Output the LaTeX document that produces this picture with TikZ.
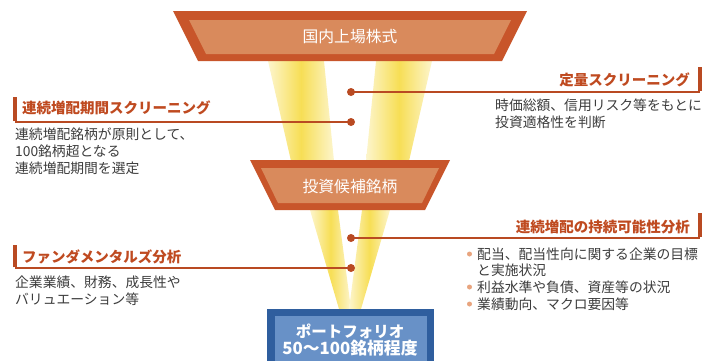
\documentclass[tikz,border=0pt]{standalone}
\usepackage{fontspec}
\setmainfont{Noto Sans CJK JP}
\definecolor{orDark}{HTML}{C8552A}
\definecolor{orLight}{HTML}{D98A5C}
\definecolor{lineRed}{HTML}{B94A22}
\definecolor{titleRed}{HTML}{BF4A20}
\definecolor{bDark}{HTML}{2F5E9E}
\definecolor{bLight}{HTML}{6891C7}
\definecolor{bodyGray}{HTML}{3C3C3C}
\definecolor{beamY}{HTML}{F7DE55}
\definecolor{bulletC}{HTML}{E8A47E}
\tikzset{
  beam/.style={left color=beamY!30, right color=beamY!30, middle color=beamY},
  boxtext/.style={text=white, inner sep=0pt, font=\fontsize{15.8}{18}\selectfont},
  porttext/.style={text=white, inner sep=0pt, align=center, font=\bfseries\fontsize{15.5}{16.5}\selectfont},
  dotnode/.style={circle, fill=lineRed, inner sep=0pt, minimum size=8pt},
  conn/.style={draw=lineRed, line width=1.3pt},
  sidebar/.style={draw=lineRed, line width=3.5pt},
  titletext/.style={text=titleRed, inner sep=0pt, font=\bfseries\fontsize{14.5}{16}\selectfont},
  bodytext/.style={text=bodyGray, inner sep=0pt, align=left, font=\fontsize{13.8}{16.6}\selectfont},
  bullet/.style={circle, fill=bulletC, inner sep=0pt, minimum size=5pt}
}
\begin{document}
\begin{tikzpicture}[x=1pt,y=-1pt]
\useasboundingbox (0,0) rectangle (714,360);
% beams
\shade[beam] (268,61) -- (324,61) -- (334,161) -- (291,161) -- cycle;
\shade[beam] (376,61) -- (432,61) -- (409,161) -- (366,161) -- cycle;
\shade[beam] (310,210) -- (338,210) -- (351,309) -- (339,309) -- cycle;
\shade[beam] (362,210) -- (390,210) -- (361,309) -- (349,309) -- cycle;
% top trapezoid
\fill[orDark] (173,11) -- (527,11) -- (502,61) -- (198,61) -- cycle;
\fill[orLight] (189,20) -- (511,20) -- (494,54) -- (206,54) -- cycle;
\node[boxtext] (market) at (350,37) {国内上場株式};
% middle trapezoid
\fill[orDark] (250,160) -- (450,160) -- (425,210) -- (275,210) -- cycle;
\fill[orLight] (261,168) -- (439,168) -- (422,203) -- (278,203) -- cycle;
\node[boxtext] (cand) at (350,187) {投資候補銘柄};
% portfolio
\fill[bDark] (267,309) rectangle (434,362);
\fill[bLight] (275,316) rectangle (427,362);
\node[porttext] (port) at (350,340) {ポートフォリオ\\{\fontsize{16.8}{16.5}\selectfont 50〜100銘柄程度}};
% connectors
\node[dotnode] (d1) at (351,92) {};
\node[dotnode] (d2) at (351,122) {};
\node[dotnode] (d3) at (351,238) {};
\node[dotnode] (d4) at (351,268) {};
\coordinate (e1) at (700,92);
\coordinate (e2) at (15,122);
\coordinate (e3) at (700,238);
\coordinate (e4) at (15,268);
\draw[conn] (d1.center) -- (e1);
\draw[conn] (d2.center) -- (e2);
\draw[conn] (d3.center) -- (e3);
\draw[conn] (d4.center) -- (e4);
\draw[sidebar] ([yshift=0.6pt]e1) -- ++(0,-24);
\draw[sidebar] ([yshift=0.6pt]e2) -- ++(0,-24);
\draw[sidebar] ([yshift=0.6pt]e3) -- ++(0,-24);
\draw[sidebar] ([yshift=0.6pt]e4) -- ++(0,-22);
% titles
\node[titletext, anchor=east] (t1) at (690,80) {定量スクリーニング};
\node[titletext, anchor=west] (t2) at (22,108) {連続増配期間スクリーニング};
\node[titletext, anchor=east] (t3) at (690,227) {連続増配の持続可能性分析};
\node[titletext, anchor=west] (t4) at (22,257) {ファンダメンタルズ分析};
% bodies
\node[bodytext, anchor=north west] (b1) at (495,99) {時価総額、信用リスク等をもとに\\投資適格性を判断};
\node[bodytext, anchor=north west] (b2) at (15,128) {連続増配銘柄が原則として、\\100銘柄超となる\\連続増配期間を選定};
\node[bodytext, anchor=north west] (b4) at (15,276) {企業業績、財務、成長性や\\バリュエーション等};
\node[bodytext, anchor=west] (b3a) at (477,254) {配当、配当性向に関する企業の目標};
\node[bodytext, anchor=west] (b3b) at (477,270.5) {と実施状況};
\node[bodytext, anchor=west] (b3c) at (477,287) {利益水準や負債、資産等の状況};
\node[bodytext, anchor=west] (b3d) at (477,304) {業績動向、マクロ要因等};
\node[bullet] (u1) at (469.5,254) {};
\node[bullet] (u2) at (469.5,287) {};
\node[bullet] (u3) at (469.5,304) {};
\end{tikzpicture}
\end{document}
